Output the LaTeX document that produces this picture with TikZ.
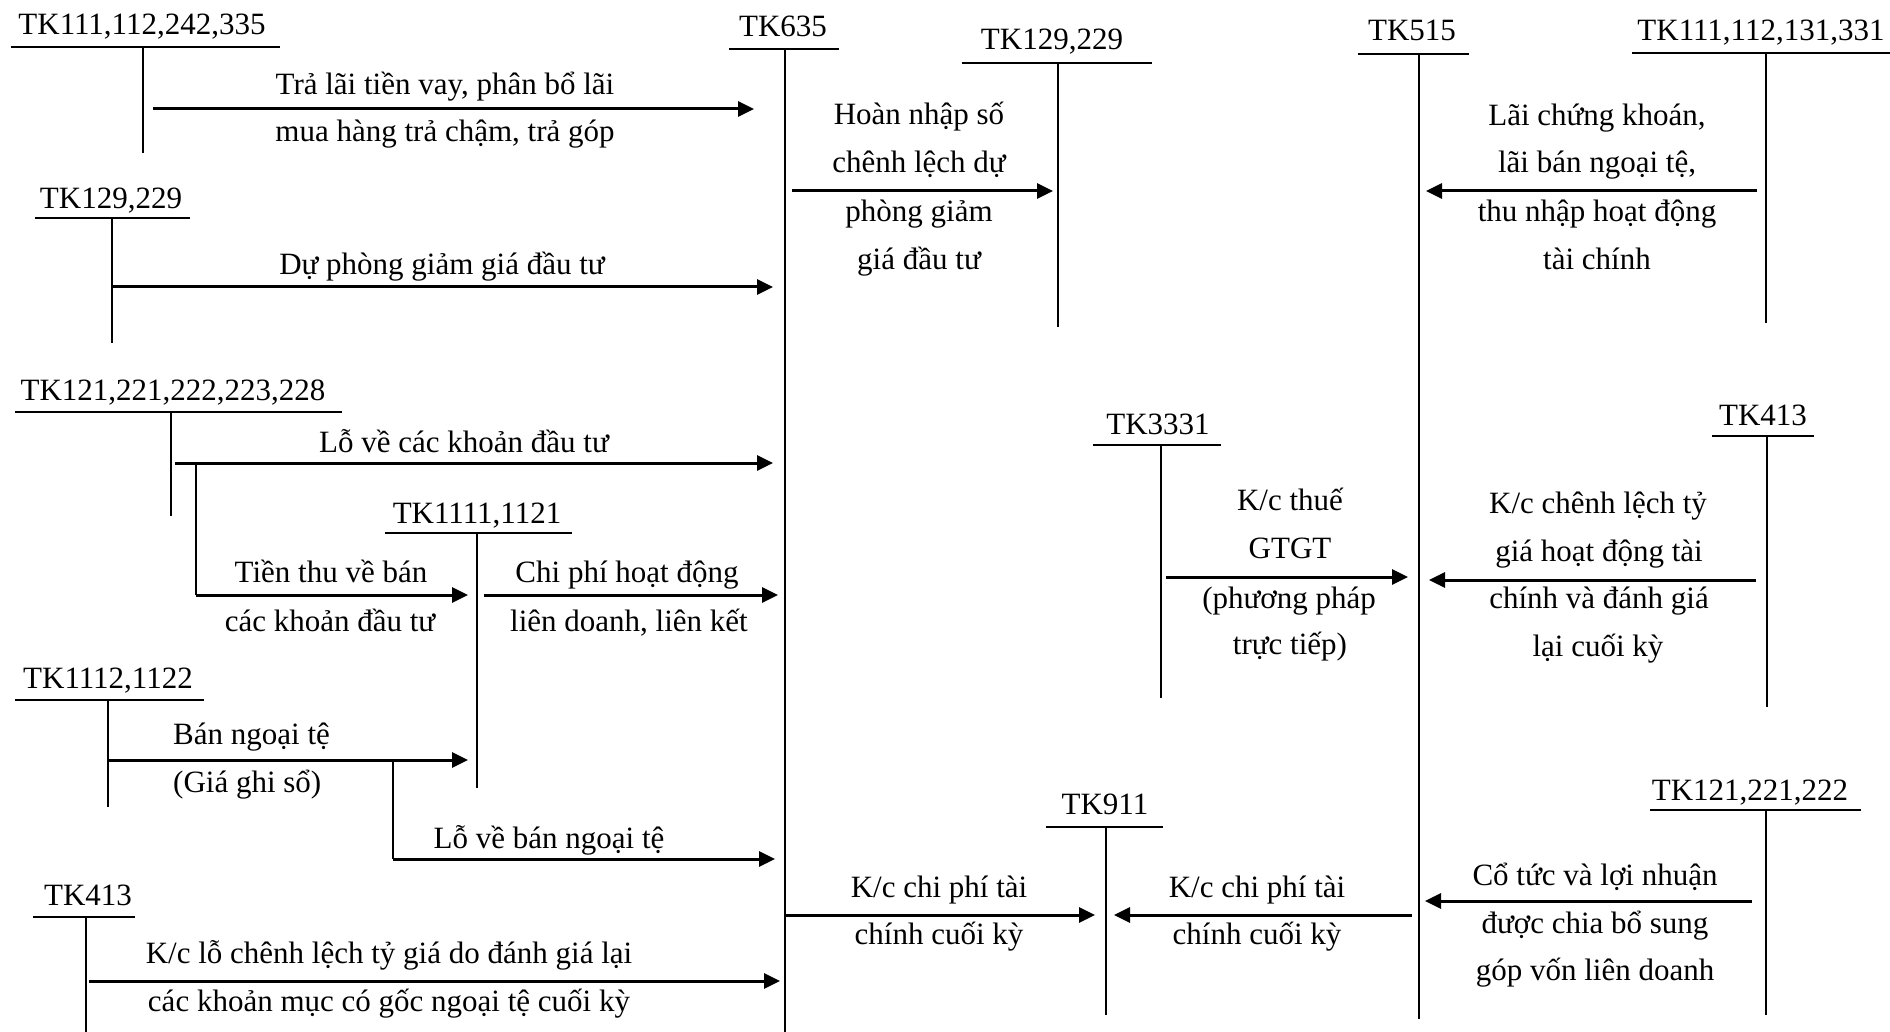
\documentclass[tikz,border=0pt]{standalone}
\usepackage{fontspec}
\setmainfont{Liberation Serif}
\usetikzlibrary{arrows.meta}
\newcommand\acct[9]{%
 \node[acc] (#1) at (#2,#3) {#4};
 \coordinate (#1-ul) at (#5,#7);
 \coordinate (#1-ur) at (#6,#7);
 \coordinate (#1-top) at (#8,#7);
 \coordinate (#1-bot) at (#8,#9);
 \draw[uline] (#1-ul) -- (#1-ur);
 \draw[vline] (#1-top) -- (#1-bot);
}
\newcommand\lab[4]{\node[lbl] (#1) at (#2,#3) {#4};}
\newcommand\arrw[4]{\coordinate (#1s) at (#2,#4); \coordinate (#1e) at (#3,#4); \draw[arr] (#1s) -- (#1e);}
\newcommand\branch[4]{\coordinate (#1t) at (#2,#3); \coordinate (#1b) at (#2,#4); \draw[vline] (#1t) -- (#1b);}
\begin{document}
\begin{tikzpicture}[x=1pt,y=-1pt,
  lbl/.style={font=\fontsize{31}{37}\selectfont, anchor=base, inner sep=0pt},
  acc/.style={lbl},
  uline/.style={line width=2.5pt},
  vline/.style={line width=2pt},
  arr/.style={line width=3pt, -{Triangle[length=16pt,width=15pt]}}]
\fill[white] (0,0) rectangle (1890,1032);
\useasboundingbox (0,0) rectangle (1890,1032);
% accounts
\acct{A}{142}{35}{TK111,112,242,335}{11}{280}{47}{143}{153}
\acct{B}{783}{37}{TK635}{729}{839}{49}{785}{1032}
\acct{C}{1052}{50}{TK129,229}{962}{1152}{63}{1058}{327}
\acct{D}{1412}{41}{TK515}{1358}{1469}{54}{1419}{1019}
\acct{E}{1761}{41}{TK111,112,131,331}{1632}{1890}{53}{1766}{323}
\acct{F}{111}{209}{TK129,229}{35}{190}{218}{112}{343}
\acct{G}{173}{400}{TK121,221,222,223,228}{15}{342}{412}{171}{516}
\acct{H}{477}{523}{TK1111,1121}{385}{572}{533}{477}{788}
\acct{I}{108}{688}{TK1112,1122}{15}{204}{700}{108}{807}
\acct{J}{88}{905}{TK413}{33}{135}{917}{86}{1032}
\acct{K}{1158}{434}{TK3331}{1093}{1221}{445}{1161}{698}
\acct{L}{1763}{425}{TK413}{1712}{1814}{436}{1767}{707}
\acct{M}{1105}{814}{TK911}{1046}{1163}{827}{1106}{1015}
\acct{N}{1750}{800}{TK121,221,222}{1650}{1861}{810}{1766}{1015}
% arrows
\arrw{a1}{153}{754}{109}
\lab{a1t1}{445}{95}{Trả lãi tiền vay, phân bổ lãi}
\lab{a1t2}{445}{142}{mua hàng trả chậm, trả góp}
\arrw{a2}{112}{773}{287}
\lab{a2t1}{442}{275}{Dự phòng giảm giá đầu tư}
\arrw{a3}{175}{773}{463}
\lab{a3t1}{464}{452}{Lỗ về các khoản đầu tư}
\branch{b4}{196}{463}{595}
\arrw{a4}{196}{468}{595}
\lab{a4t1}{331}{582}{Tiền thu về bán}
\lab{a4t2}{330}{631}{các khoản đầu tư}
\arrw{a5}{484}{778}{595}
\lab{a5t1}{627}{582}{Chi phí hoạt động}
\lab{a5t2}{629}{631}{liên doanh, liên kết}
\arrw{a6}{108}{468}{760}
\node[lbl, anchor=base west] (a6t1) at (173,744) {Bán ngoại tệ};
\node[lbl, anchor=base west] (a6t2) at (173,792) {(Giá ghi sổ)};
\branch{b7}{393}{760}{859}
\arrw{a7}{393}{775}{859}
\lab{a7t1}{549}{848}{Lỗ về bán ngoại tệ}
\arrw{a8}{89}{780}{981}
\lab{a8t1}{389}{963}{K/c lỗ chênh lệch tỷ giá do đánh giá lại}
\lab{a8t2}{389}{1011}{các khoản mục có gốc ngoại tệ cuối kỳ}
\arrw{a9}{792}{1053}{191}
\lab{a9t1}{919}{125}{Hoàn nhập số}
\lab{a9t2}{919}{173}{chênh lệch dự}
\lab{a9t3}{919}{222}{phòng giảm}
\lab{a9t4}{919}{270}{giá đầu tư}
\arrw{a10}{1757}{1426}{191}
\lab{a10t1}{1597}{126}{Lãi chứng khoán,}
\lab{a10t2}{1597}{173}{lãi bán ngoại tệ,}
\lab{a10t3}{1597}{222}{thu nhập hoạt động}
\lab{a10t4}{1597}{270}{tài chính}
\arrw{a11}{1166}{1408}{577}
\lab{a11t1}{1290}{510}{K/c thuế}
\lab{a11t2}{1290}{558}{GTGT}
\lab{a11t3}{1289}{608}{(phương pháp}
\lab{a11t4}{1290}{654}{trực tiếp)}
\arrw{a12}{1756}{1429}{580}
\lab{a12t1}{1598}{513}{K/c chênh lệch tỷ}
\lab{a12t2}{1599}{561}{giá hoạt động tài}
\lab{a12t3}{1599}{608}{chính và đánh giá}
\lab{a12t4}{1598}{656}{lại cuối kỳ}
\arrw{a13}{785}{1095}{915}
\lab{a13t1}{939}{897}{K/c chi phí tài}
\lab{a13t2}{939}{944}{chính cuối kỳ}
\arrw{a14}{1412}{1114}{915}
\lab{a14t1}{1257}{897}{K/c chi phí tài}
\lab{a14t2}{1257}{944}{chính cuối kỳ}
\arrw{a15}{1752}{1425}{901}
\lab{a15t1}{1595}{885}{Cổ tức và lợi nhuận}
\lab{a15t2}{1595}{933}{được chia bổ sung}
\lab{a15t3}{1595}{980}{góp vốn liên doanh}
\end{tikzpicture}
\end{document}
